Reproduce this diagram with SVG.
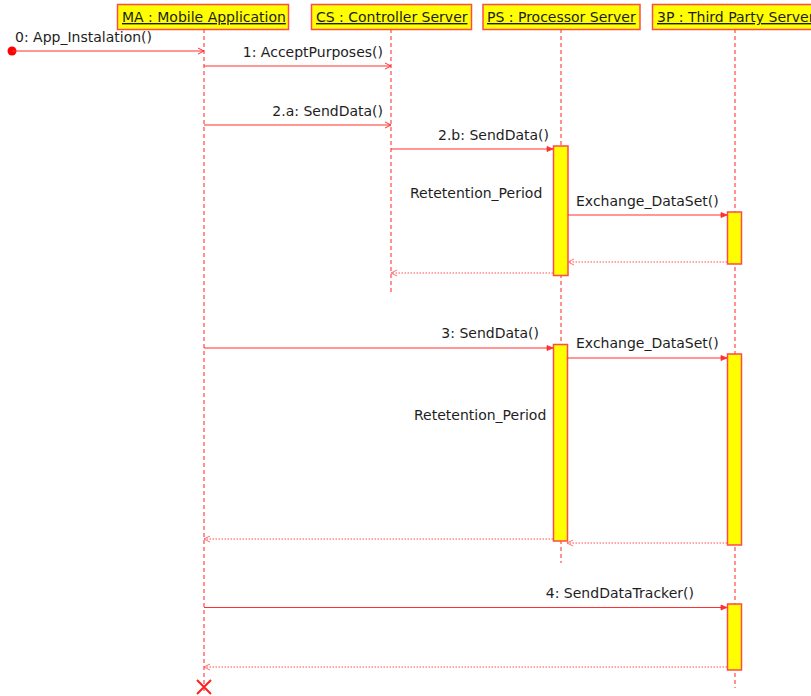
<svg xmlns="http://www.w3.org/2000/svg" width="811" height="696" viewBox="0 0 811 696">
<style>
text{font-family:"DejaVu Sans","Liberation Sans",sans-serif;font-size:14px;fill:#1e1e1e}
.hdr rect{fill:#ffff00;stroke:#ff4a4a;stroke-width:1.5}
.hdr text{text-decoration:underline}
.life{stroke:#ff4a4a;stroke-width:1.2;stroke-dasharray:4 3;fill:none}
.act{fill:#ffff00;stroke:#ff4a4a;stroke-width:1.5}
.msg{stroke:#ff3030;stroke-width:1.2;fill:none}
.ret{stroke:#ff5050;stroke-width:1.2;stroke-dasharray:1.5 1.5;fill:none}
</style>
<defs>
<marker id="open" markerWidth="8" markerHeight="8" refX="7" refY="4" orient="auto" markerUnits="userSpaceOnUse">
<path d="M1,1 L7,4 L1,7" fill="none" stroke="#ff3030" stroke-width="1"/>
</marker>
<marker id="fill" markerWidth="8" markerHeight="8" refX="7" refY="4" orient="auto" markerUnits="userSpaceOnUse">
<path d="M1,1.5 L7,4 L1,6.5 Z" fill="#ff3030" stroke="#ff3030" stroke-width="0.8"/>
</marker>
<marker id="retm" markerWidth="8" markerHeight="8" refX="7" refY="4" orient="auto" markerUnits="userSpaceOnUse">
<path d="M1,1 L7,4 L1,7" fill="none" stroke="#ff6060" stroke-width="0.9"/>
</marker>
</defs>

<g id="lifelines">
<line class="life" x1="204" y1="29" x2="204" y2="692"/>
<line class="life" x1="391" y1="29" x2="391" y2="294"/>
<line class="life" x1="561" y1="29" x2="561" y2="563"/>
<line class="life" x1="735" y1="29" x2="735" y2="688"/>
</g>

<g id="MA" class="hdr">
<rect x="117.5" y="4.5" width="171" height="25"/>
<text x="122" y="22">MA : Mobile Application</text>
</g>
<g id="CS" class="hdr">
<rect x="311.5" y="4.5" width="160" height="25"/>
<text x="316" y="22">CS : Controller Server</text>
</g>
<g id="PS" class="hdr">
<rect x="483" y="4.5" width="157" height="25"/>
<text x="487" y="22">PS : Processor Server</text>
</g>
<g id="TP" class="hdr">
<rect x="652.5" y="4.5" width="172" height="25"/>
<text x="657" y="22">3P : Third Party Server</text>
</g>

<g id="activations">
<rect id="PS_act1" class="act" x="553.5" y="146" width="14.5" height="129.5"/>
<rect id="TP_act1" class="act" x="727.5" y="212" width="14" height="52"/>
<rect id="PS_act2" class="act" x="553.5" y="344.5" width="14" height="196.5"/>
<rect id="TP_act2" class="act" x="727.5" y="354" width="14" height="191"/>
<rect id="TP_act3" class="act" x="727.5" y="604" width="14" height="66"/>
</g>

<g id="connectors">
<circle cx="12" cy="51" r="4.5" fill="#ff0000"/>
<line class="msg" x1="12" y1="51" x2="204" y2="51" marker-end="url(#open)"/>
<line class="msg" x1="204" y1="66" x2="391" y2="66" marker-end="url(#open)"/>
<line class="msg" x1="204" y1="125" x2="391" y2="125" marker-end="url(#open)"/>
<line class="msg" x1="391" y1="149" x2="553" y2="149" marker-end="url(#fill)"/>
<line class="msg" x1="568" y1="215" x2="727" y2="215" marker-end="url(#fill)"/>
<line class="ret" x1="727" y1="262" x2="568" y2="262" marker-end="url(#retm)"/>
<line class="ret" x1="553" y1="273" x2="391" y2="273" marker-end="url(#retm)"/>
<line class="msg" x1="204" y1="348" x2="553" y2="348" marker-end="url(#fill)"/>
<line class="msg" x1="567" y1="358" x2="727" y2="358" marker-end="url(#fill)"/>
<line class="ret" x1="727" y1="543" x2="567" y2="543" marker-end="url(#retm)"/>
<line class="ret" x1="553" y1="539" x2="204" y2="539" marker-end="url(#retm)"/>
<line class="msg" x1="204" y1="607.5" x2="727" y2="607.5" marker-end="url(#fill)"/>
<line class="ret" x1="727" y1="667" x2="204" y2="667" marker-end="url(#retm)"/>
<path d="M197,680 L211,694 M211,680 L197,694" stroke="#ff2020" stroke-width="2" fill="none"/>
</g>

<g id="labels">
<text x="15" y="42">0: App_Instalation()</text>
<text x="383" y="57" text-anchor="end">1: AcceptPurposes()</text>
<text x="383" y="116" text-anchor="end">2.a: SendData()</text>
<text x="549" y="140" text-anchor="end">2.b: SendData()</text>
<text x="410" y="198">Retetention_Period</text>
<text x="576" y="206">Exchange_DataSet()</text>
<text x="539" y="338" text-anchor="end">3: SendData()</text>
<text x="576" y="348">Exchange_DataSet()</text>
<text x="414" y="420">Retetention_Period</text>
<text x="694" y="598" text-anchor="end">4: SendDataTracker()</text>
</g>
</svg>
